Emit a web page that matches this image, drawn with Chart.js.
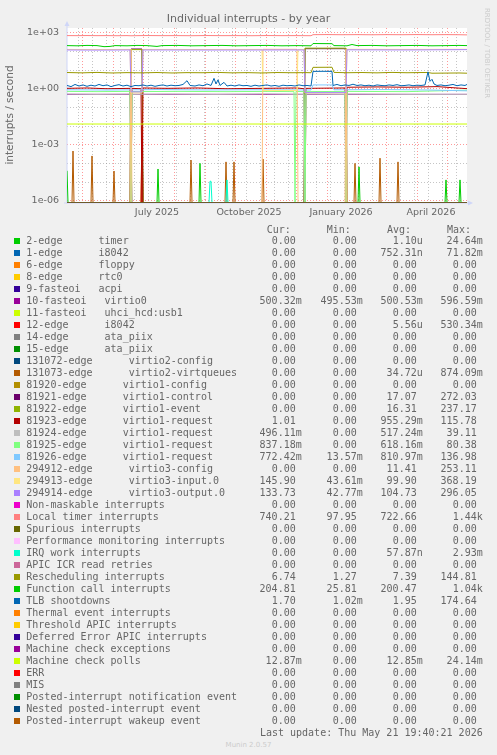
<!DOCTYPE html>
<html>
<head>
<meta charset="utf-8">
<script src="https://cdn.jsdelivr.net/npm/chart.js@4.4.1/dist/chart.umd.min.js"></script>
<style>
  body { margin: 0; background: #F0F0F0; width: 497px; height: 755px; overflow: hidden; position: relative; font-family: 'DejaVu Sans'; color: #666; }
  #wrap { position: absolute; left: 0; top: 0; width: 497px; height: 225px; }
  .t { position: absolute; white-space: pre; }
  .leg { font-family: 'DejaVu Sans Mono'; font-size: 10px; line-height: 12px; color: #666; }
  .sw { position: absolute; width: 6px; height: 6px; }
</style>
</head>
<body>
<div id="wrap"><canvas id="chart" width="497" height="225"></canvas></div>
<div class="t" id="title" style="left:0;width:497px;text-align:center;top:13.2px;font-size:11px;line-height:12px;">Individual interrupts - by year</div>
<div class="t" style="left:-90.6px;top:109px;width:200px;text-align:center;font-size:10.5px;line-height:12px;transform:rotate(-90deg);">interrupts / second</div>
<div class="t" style="left:437.4px;top:48.5px;width:100px;text-align:center;font-size:7px;line-height:8px;color:#ccc;transform:rotate(90deg);">RRDTOOL / TOBI OETIKER</div>
<div class="t" style="left:0;width:497px;text-align:center;top:741px;font-size:7px;line-height:8px;color:#ccc;">Munin 2.0.57</div>
<div id="legend"></div>
<script>
// x axis in days since 16 Apr 2025 (400 days, ends 21 May 2026)
var fortnightDays = [11, 25, 39, 53, 67, 81, 95, 109, 123, 137, 151, 165, 179, 193, 207, 221, 235, 249, 263, 277, 305, 333, 347, 361, 375, 389];
var monthDays = [15, 46, 76, 107, 138, 168, 199, 229, 260, 291, 319, 350, 380];
var xLabelDays = [90, 182, 274, 364];
var xLabels = ['July 2025', 'October 2025', 'January 2026', 'April 2026'];

var yMin = 8e-7, yMax = 1800;
var yTicks = [1e-6, 1e-5, 1e-4, 1e-3, 1e-2, 1e-1, 1, 10, 100, 1000];
var yTickLabels = ['1e-06', '', '', '1e-03', '', '', '1e+00', '', '', '1e+03'];

var names = [
  '2-edge      timer', '1-edge      i8042', '6-edge      floppy', '8-edge      rtc0',
  '9-fasteoi   acpi', '10-fasteoi   virtio0', '11-fasteoi   uhci_hcd:usb1', '12-edge      i8042',
  '14-edge      ata_piix', '15-edge      ata_piix',
  '131072-edge      virtio2-config', '131073-edge      virtio2-virtqueues',
  '81920-edge      virtio1-config', '81921-edge      virtio1-control', '81922-edge      virtio1-event',
  '81923-edge      virtio1-request', '81924-edge      virtio1-request', '81925-edge      virtio1-request',
  '81926-edge      virtio1-request',
  '294912-edge      virtio3-config', '294913-edge      virtio3-input.0', '294914-edge      virtio3-output.0',
  'Non-maskable interrupts', 'Local timer interrupts', 'Spurious interrupts',
  'Performance monitoring interrupts', 'IRQ work interrupts', 'APIC ICR read retries',
  'Rescheduling interrupts', 'Function call interrupts', 'TLB shootdowns',
  'Thermal event interrupts', 'Threshold APIC interrupts', 'Deferred Error APIC interrupts',
  'Machine check exceptions', 'Machine check polls', 'ERR', 'MIS',
  'Posted-interrupt notification event', 'Nested posted-interrupt event', 'Posted-interrupt wakeup event'
];

var colors = [
  '#00CC00', '#0066B3', '#FF8000', '#FFCC00', '#330099', '#990099', '#CCFF00', '#FF0000', '#808080', '#008F00',
  '#00487D', '#B35A00', '#B38F00', '#6B006B', '#8FB300', '#B30000', '#BEBEBE', '#80FF80', '#80C9FF', '#FFC080',
  '#FFE680', '#AA80FF', '#EE00CC', '#FF8080', '#666600', '#FFBFFF', '#00FFCC', '#CC6699', '#999900', '#00CC00',
  '#0066B3', '#FF8000', '#FFCC00', '#330099', '#990099', '#CCFF00', '#FF0000', '#808080', '#008F00', '#00487D',
  '#B35A00'
];

var curVals = ['0.00','0.00','0.00','0.00','0.00','500.32m','0.00','0.00','0.00','0.00','0.00','0.00','0.00','0.00','0.00','1.01','496.11m','837.18m','772.42m','0.00','145.90','133.73','0.00','740.21','0.00','0.00','0.00','0.00','6.74','204.81','1.70','0.00','0.00','0.00','0.00','12.87m','0.00','0.00','0.00','0.00','0.00'];
var minVals = ['0.00','0.00','0.00','0.00','0.00','495.53m','0.00','0.00','0.00','0.00','0.00','0.00','0.00','0.00','0.00','0.00','0.00','0.00','13.57m','0.00','43.61m','42.77m','0.00','97.95','0.00','0.00','0.00','0.00','1.27','25.81','1.02m','0.00','0.00','0.00','0.00','0.00','0.00','0.00','0.00','0.00','0.00'];
var avgVals = ['1.10u','752.31n','0.00','0.00','0.00','500.53m','0.00','5.56u','0.00','0.00','0.00','34.72u','0.00','17.07','16.31','955.29m','517.24m','618.16m','810.97m','11.41','99.90','104.73','0.00','722.66','0.00','0.00','57.87n','0.00','7.39','200.47','1.95','0.00','0.00','0.00','0.00','12.85m','0.00','0.00','0.00','0.00','0.00'];
var maxVals = ['24.64m','71.82m','0.00','0.00','0.00','596.59m','0.00','530.34m','0.00','0.00','0.00','874.09m','0.00','272.03','237.17','115.78','39.11','80.38','136.98','253.11','368.19','296.05','0.00','1.44k','0.00','0.00','2.93m','0.00','144.81','1.04k','174.64','0.00','0.00','0.00','0.00','24.14m','0.00','0.00','0.00','0.00','0.00'];

// series values as [day, value] pairs
var zero = [[0, 0], [400, 0]];
var timer = [[0,4e-5],[1,0],[90,0],[91,5e-5],[92,0],[132,0],[133,1e-4],[134,0],[291,0],[292,6.5e-5],[293,0],[378,0],[379,1.3e-5],[380,0],[392,0],[393,1.3e-5],[394,0],[400,0]];
var i8042a = [[0,0],[63,0],[64,3e-4],[65,0],[400,0]];
var virtio0 = [[0,0.5],[200,0.5],[400,0.5]];
var i8042b = [[0,0],[74,0],[75,2e-3],[76,0],[400,0]];
var virtqueues = [[0,0],[5,0],[6,4.6e-4],[7,0],[24,0],[25,2.5e-4],[26,0],[46,0],[47,3.9e-5],[48,0],[74,0],[75,1e-2],[76,0],[123,0],[124,1.5e-4],[125,0],[158,0],[159,1.2e-4],[160,0],[166,0],[167,1.2e-4],[168,0],[195,0],[196,1.7e-4],[197,0],[287,0],[288,1e-4],[289,0],[312,0],[313,1.9e-4],[314,0],[330,0],[331,1.2e-4],[332,0],[400,0]];
var v1control = [[0,0],[63,0],[64,135],[75,135],[76,0],[237,0],[238,140],[279,140],[280,0],[400,0]];
var v1event = [[0,0],[63,0],[64,125],[75,125],[76,0],[237,0],[238,150],[279,150],[280,0],[400,0]];
var v1req0 = [[0,1.05],[20,1.1],[40,1.0],[63,1.05],[64,0],[65,1.05],[74,1.0],[75,0],[76,1.1],[100,1.05],[130,1.1],[160,1.0],[195,1.05],[230,1.1],[237,1.0],[238,0],[239,1.05],[278,1.1],[279,0],[280,1.2],[310,1.25],[340,1.2],[370,1.3],[400,1.01]];
var v1req1 = [[0,0.52],[30,0.5],[63,0.52],[64,0],[65,0.5],[100,0.52],[150,0.5],[200,0.53],[237,0.5],[238,0],[239,0.52],[278,0.5],[279,0],[280,0.52],[340,0.5],[400,0.5]];
var v1req2 = [[0,0.72],[30,0.7],[63,0.72],[64,0],[65,0.7],[110,0.72],[160,0.7],[200,0.72],[227,0.7],[228,0],[229,0.72],[237,0.7],[238,0],[239,0.72],[278,0.7],[279,0],[280,0.72],[340,0.7],[400,0.84]];
var v1req3 = [[0,0.88],[40,0.85],[90,0.9],[140,0.86],[190,0.88],[244,0.86],[246,1.6],[265,1.6],[267,0.88],[320,0.9],[360,0.86],[400,0.77]];
var v3config = [[0,0],[63,0],[64,130],[65,0],[195,0],[196,130],[230,130],[231,0],[278,0],[279,130],[280,0],[400,0]];
var v3input = [[0,128],[30,126],[63,128],[64,0.6],[75,0.6],[76,128],[130,127],[195,128],[196,0.8],[230,0.8],[231,128],[237,128],[238,0.6],[279,0.6],[280,130],[340,128],[400,130]];
var v3output = [[0,120],[30,118],[63,120],[64,0.68],[75,0.68],[76,120],[150,119],[237,120],[238,0.62],[279,0.62],[280,122],[340,120],[400,125]];
var locTimer = [[0,705],[10,700],[20,710],[30,700],[40,705],[50,695],[60,705],[64,690],[70,700],[80,710],[95,700],[110,705],[125,695],[140,710],[155,700],[170,705],[185,695],[200,710],[215,700],[230,705],[244,695],[246,790],[260,800],[275,785],[290,795],[305,780],[320,795],[335,785],[350,800],[365,785],[380,795],[392,785],[400,770]];
var irqWork = [[0,0],[142,0],[143,1.1e-5],[144,1.1e-5],[145,0],[159,0],[160,1.3e-5],[161,0],[400,0]];
var resched = [[0,7.4],[15,7.1],[30,7.5],[45,7.0],[60,7.3],[75,7.1],[90,7.4],[105,7.0],[120,7.3],[135,7.2],[150,7.5],[165,7.1],[180,7.3],[195,7.0],[210,7.4],[225,7.2],[240,7.3],[244,7.2],[246,14],[265,14.2],[267,7.5],[280,7.2],[295,7.4],[310,7.1],[325,7.5],[340,7.2],[355,7.4],[361,7.4],[365,6.8],[380,6.9],[392,7.0],[400,6.8]];
var funcCall = [[0,205],[10,200],[20,210],[30,205],[37,180],[43,185],[48,205],[60,200],[70,210],[80,205],[90,185],[95,205],[110,210],[125,200],[140,205],[155,210],[170,200],[185,205],[200,210],[215,200],[230,205],[244,200],[246,265],[265,260],[267,205],[280,200],[285,235],[290,205],[305,210],[320,200],[335,205],[350,210],[365,200],[380,205],[392,210],[400,205]];
var tlb = [[0,1.5],[4,1.3],[8,1.7],[12,1.4],[16,1.6],[20,1.35],[24,1.55],[28,1.4],[32,1.7],[36,1.45],[40,1.6],[44,1.3],[48,1.5],[52,1.65],[56,1.4],[60,1.55],[64,1.3],[68,1.5],[72,1.45],[76,1.6],[80,1.4],[84,1.55],[88,1.35],[92,1.5],[96,1.6],[100,1.4],[104,1.55],[108,1.45],[112,1.5],[116,1.7],[120,2.7],[123,1.5],[128,1.4],[132,1.6],[136,1.45],[140,1.8],[144,1.5],[147,3.6],[149,1.8],[151,3.0],[153,1.5],[157,2.2],[160,1.4],[164,1.55],[168,1.4],[172,1.6],[176,1.45],[180,1.5],[184,1.35],[188,1.55],[192,1.4],[196,1.5],[200,1.6],[204,1.4],[208,1.5],[212,1.35],[216,1.55],[220,1.45],[224,1.5],[228,1.4],[232,1.6],[236,1.45],[240,1.5],[244,1.4],[246,8.5],[256,8.6],[265,8.5],[266,1.5],[270,1.7],[274,1.45],[278,1.6],[282,1.5],[286,1.75],[290,1.5],[294,1.6],[298,1.45],[302,1.55],[306,1.4],[310,1.6],[314,1.5],[318,1.45],[322,1.6],[326,1.5],[330,1.65],[334,1.45],[338,1.5],[342,1.6],[346,1.45],[350,1.55],[354,1.5],[358,1.6],[361,8.0],[363,2.5],[365,3.2],[367,1.8],[370,1.5],[374,1.6],[378,1.45],[382,1.55],[386,1.7],[390,1.45],[394,1.6],[398,1.5],[400,1.7]];
var mcPolls = [[0,0.01285],[400,0.01285]];

var series = [
  timer, i8042a, zero, zero, zero, virtio0, zero, i8042b, zero, zero,
  zero, virtqueues, zero, v1control, v1event, v1req0, v1req1, v1req2, v1req3,
  v3config, v3input, v3output,
  zero, locTimer, zero, zero, irqWork, zero, resched, funcCall, tlb,
  zero, zero, zero, zero, mcPolls, zero, zero, zero, zero, zero
];

// legend table
var leg = document.getElementById('legend');
function put(cls, txt, styles) {
  var el = document.createElement('div');
  el.className = cls;
  el.textContent = txt;
  for (var k in styles) el.style[k] = styles[k];
  leg.appendChild(el);
  return el;
}
function num(txt, edge, top) {
  var m = txt.match(/^([\d.]+)([a-zA-Z]?)$/);
  put('t leg', m[1] + (m[2] || ' '), { right: (497 - edge - 6.02) + 'px', top: top + 'px' });
}
var numEdges = [295.7, 356.7, 416.7, 476.7];
['Cur:', 'Min:', 'Avg:', 'Max:'].forEach(function (h, j) {
  put('t leg', h, { left: (266.7 + j * 60.1) + 'px', top: '223.5px' });
});
names.forEach(function (n, i) {
  var top = 234.5 + i * 12.01;
  put('sw', '', { left: '14px', top: (top + 3) + 'px', background: colors[i] });
  put('t leg', n, { left: '26.3px', top: top + 'px' });
  num(curVals[i], numEdges[0], top);
  num(minVals[i], numEdges[1], top);
  num(avgVals[i], numEdges[2], top);
  num(maxVals[i], numEdges[3], top);
});
put('t leg', 'Last update: Thu May 21 19:40:21 2026', { right: (497 - 482.7) + 'px', top: '726.7px' });

// chart
var canvasBg = {
  id: 'canvasBg',
  beforeDraw: function (chart) {
    var a = chart.chartArea, c = chart.ctx;
    c.save();
    c.fillStyle = '#FFFFFF';
    c.fillRect(a.left, a.top, a.right - a.left, a.bottom - a.top);
    c.restore();
  },
  beforeDatasetsDraw: function (chart) {
    var a = chart.chartArea, c = chart.ctx;
    c.save();
    c.strokeStyle = '#CFD6F8';
    c.fillStyle = '#CFD6F8';
    c.lineWidth = 1;
    c.beginPath();
    c.moveTo(a.left, a.bottom + 1);
    c.lineTo(a.left, a.top - 4);
    c.moveTo(a.left - 3, a.bottom + 0.5);
    c.lineTo(a.right + 2, a.bottom + 0.5);
    c.stroke();
    c.beginPath();
    c.moveTo(a.left - 2.5, a.top - 2);
    c.lineTo(a.left + 2.5, a.top - 2);
    c.lineTo(a.left, a.top - 7);
    c.closePath();
    c.fill();
    c.beginPath();
    c.moveTo(a.right + 1, a.bottom - 2);
    c.lineTo(a.right + 1, a.bottom + 3);
    c.lineTo(a.right + 6, a.bottom + 0.5);
    c.closePath();
    c.fill();
    c.restore();
  }
};

// zero counts sit on the bottom edge of the log axis, as rrdtool draws them
var datasets = series.map(function (s, i) {
  return {
    label: names[i],
    data: s.map(function (p) { return { x: p[0], y: Math.max(p[1], yMin) }; }),
    borderColor: colors[i],
    borderWidth: 1,
    pointRadius: 0,
    fill: false,
    tension: 0,
    order: -i
  };
});

var tickFont = { family: 'DejaVu Sans', size: 9.5 };

new Chart(document.getElementById('chart'), {
  type: 'line',
  data: { datasets: datasets },
  options: {
    responsive: false,
    animation: false,
    devicePixelRatio: 1,
    layout: { padding: { left: 0, right: 30, top: 28, bottom: 0 } },
    plugins: { legend: { display: false }, tooltip: { enabled: false } },
    scales: {
      x: {
        type: 'linear', min: 0, max: 400,
        afterBuildTicks: function (sc) {
          var all = fortnightDays.concat(monthDays, xLabelDays).sort(function (a, b) { return a - b; });
          sc.ticks = all.map(function (d) { return { value: d }; });
        },
        afterFit: function (sc) { sc.height = 22.5; },
        ticks: {
          autoSkip: false, maxRotation: 0, padding: 4, color: '#666', font: tickFont,
          callback: function (v) {
            var k = xLabelDays.indexOf(v);
            return k >= 0 ? xLabels[k] : '';
          }
        },
        grid: {
          drawTicks: false, lineWidth: 1,
          color: function (ctx) {
            var v = ctx.tick && ctx.tick.value;
            if (monthDays.indexOf(v) >= 0) return 'rgba(255,0,0,0.4)';
            if (fortnightDays.indexOf(v) >= 0) return 'rgba(140,140,140,0.5)';
            return 'rgba(0,0,0,0)';
          }
        },
        border: { display: false, dash: [1, 2] }
      },
      y: {
        type: 'logarithmic', min: yMin, max: yMax,
        afterBuildTicks: function (sc) {
          sc.ticks = yTicks.map(function (v) { return { value: v }; });
        },
        afterFit: function (sc) { sc.width = 67; },
        ticks: {
          padding: 8, color: '#666', font: tickFont, autoSkip: false,
          callback: function (v, i) { return yTickLabels[i]; }
        },
        grid: {
          drawTicks: false, lineWidth: 1,
          color: function (ctx) {
            return yTickLabels[ctx.index] ? 'rgba(255,0,0,0.4)' : 'rgba(140,140,140,0.5)';
          }
        },
        border: { display: false, dash: [1, 2] }
      }
    }
  },
  plugins: [canvasBg]
});
</script>
</body>
</html>
